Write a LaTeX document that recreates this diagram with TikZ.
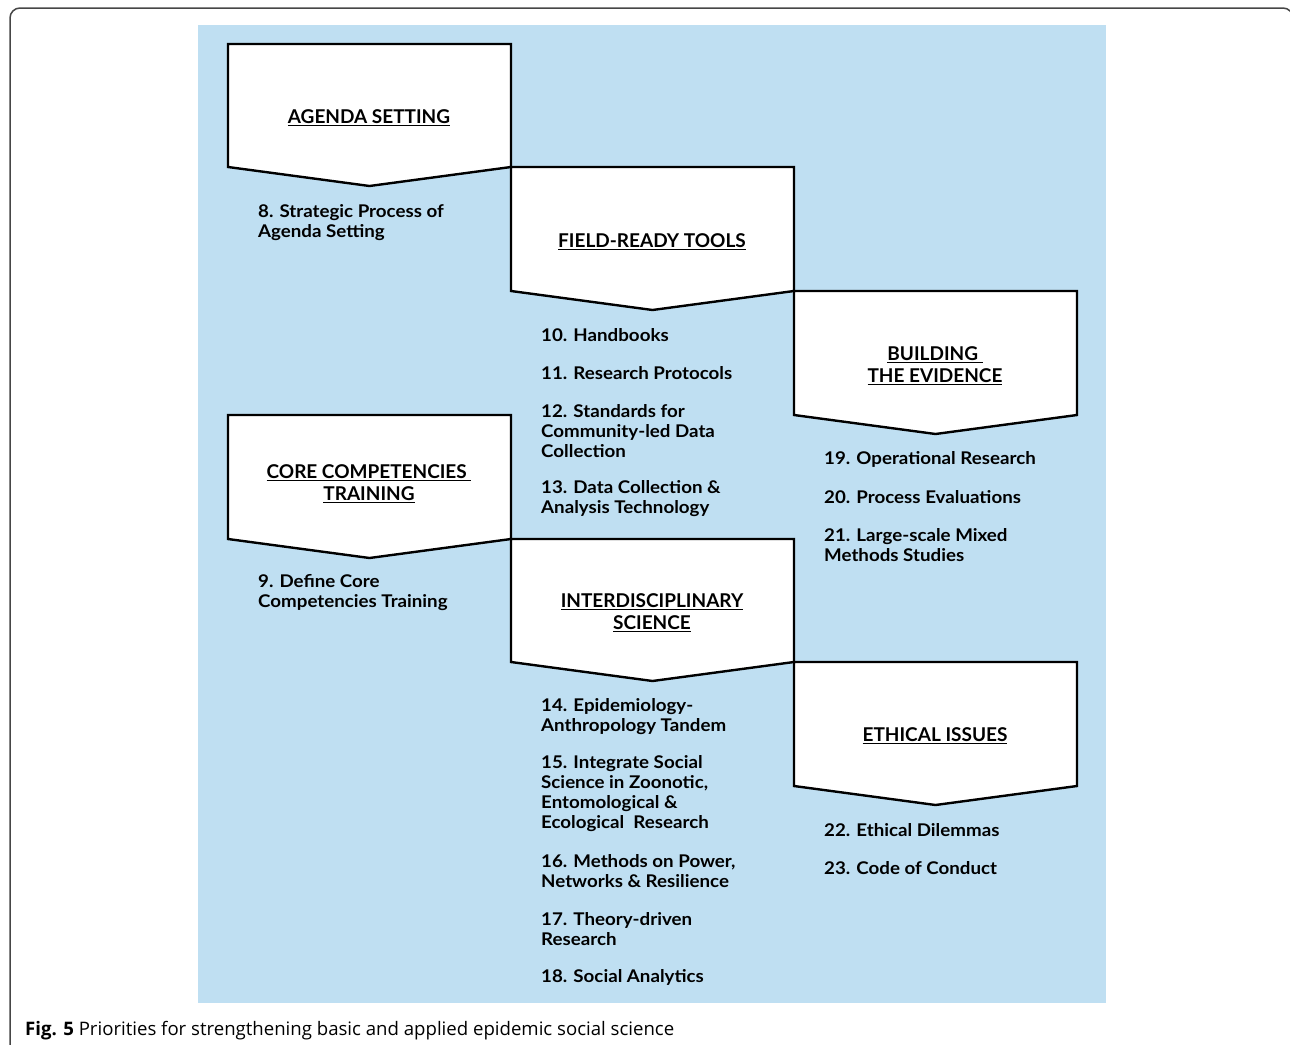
\documentclass[tikz,border=0pt]{standalone}
\usepackage{xcolor}
\usepackage{fontspec}
\usepackage{tikz}
\setmainfont{Lato}
\newfontfamily\itemfont{Lato}[FakeStretch=1.07]
\newfontfamily\capfont{Open Sans}
\definecolor{bgblue}{RGB}{191,223,242}
\definecolor{framegray}{RGB}{70,70,70}
\tikzstyle{chevron}=[draw=black,fill=white,line width=2.4pt,line join=miter]
\tikzstyle{boxtitle}=[align=center,inner sep=0pt,font=\fontsize{19}{22}\selectfont\bfseries]
\tikzstyle{itemtext}=[anchor=west,align=left,inner sep=0pt,font=\itemfont\fontsize{17.5}{20}\selectfont\bfseries]

\begin{document}
\begin{tikzpicture}[x=1pt,y=-1pt]
\useasboundingbox (0,0) rectangle (1290,1044);
\clip (0,0) rectangle (1290,1044);
\draw[framegray, line width=1.5pt, rounded corners=10pt] (10,1100) -- (10,8) -- (1293,8) -- (1293,1100);
\fill[bgblue] (198,25) rectangle (1106,1003);
% boxes
\draw[chevron] (228,44) -- ++(283,0) -- ++(0,123) -- ++(-141.5,19) -- ++(-141.5,-19) -- cycle;
\draw[chevron] (511,167) -- ++(283,0) -- ++(0,124) -- ++(-141.5,19) -- ++(-141.5,-19) -- cycle;
\draw[chevron] (794,291) -- ++(283,0) -- ++(0,124) -- ++(-141.5,19) -- ++(-141.5,-19) -- cycle;
\draw[chevron] (228,415) -- ++(283,0) -- ++(0,124) -- ++(-141.5,19) -- ++(-141.5,-19) -- cycle;
\draw[chevron] (511,539) -- ++(283,0) -- ++(0,123) -- ++(-141.5,19) -- ++(-141.5,-19) -- cycle;
\draw[chevron] (794,662) -- ++(283,0) -- ++(0,124) -- ++(-141.5,19) -- ++(-141.5,-19) -- cycle;
% titles
\node[boxtitle] (agenda) at (369,118) {\underline{AGENDA SETTING}};
\node[boxtitle] (tools) at (652,242) {\underline{FIELD-READY TOOLS}};
\node[boxtitle] (evidence) at (935,366) {\underline{BUILDING\ }\\\underline{THE EVIDENCE}};
\node[boxtitle] (core) at (369,484) {\underline{CORE COMPETENCIES\ }\\\underline{TRAINING}};
\node[boxtitle] (inter) at (652,613) {\underline{INTERDISCIPLINARY}\\\underline{SCIENCE}};
\node[boxtitle] (ethics) at (935,736) {\underline{ETHICAL ISSUES}};
% items
\node[itemtext] (i8) at (258,223) {8. Strategic Process of\\Agenda Setting};
\node[itemtext] (i9) at (258,593) {9. Define Core\\Competencies Training};
\node[itemtext] (i10) at (541,335) {10. Handbooks};
\node[itemtext] (i11) at (541,373) {11. Research Protocols};
\node[itemtext] (i12) at (541,431) {12. Standards for\\Community-led Data\\Collection};
\node[itemtext] (i13) at (541,499) {13. Data Collection \&\\Analysis Technology};
\node[itemtext] (i14) at (541,717) {14. Epidemiology-\\Anthropology Tandem};
\node[itemtext] (i15) at (541,794) {15. Integrate Social\\Science in Zoonotic,\\Entomological \&\\Ecological\ \ Research};
\node[itemtext] (i16) at (541,871) {16. Methods on Power,\\Networks \& Resilience};
\node[itemtext] (i17) at (541,929) {17. Theory-driven\\Research};
\node[itemtext] (i18) at (541,977) {18. Social Analytics};
\node[itemtext] (i19) at (824,459) {19. Operational Research};
\node[itemtext] (i20) at (824,497) {20. Process Evaluations};
\node[itemtext] (i21) at (824,545) {21. Large-scale Mixed\\Methods Studies};
\node[itemtext] (i22) at (824,830) {22. Ethical Dilemmas};
\node[itemtext] (i23) at (824,868) {23. Code of Conduct};
% caption
\node[anchor=base west,inner sep=0pt,font=\capfont\fontsize{18.6}{22}\selectfont] (caption) at (25,1035) {\textbf{Fig. 5} Priorities for strengthening basic and applied epidemic social science};
\end{tikzpicture}
\end{document}
